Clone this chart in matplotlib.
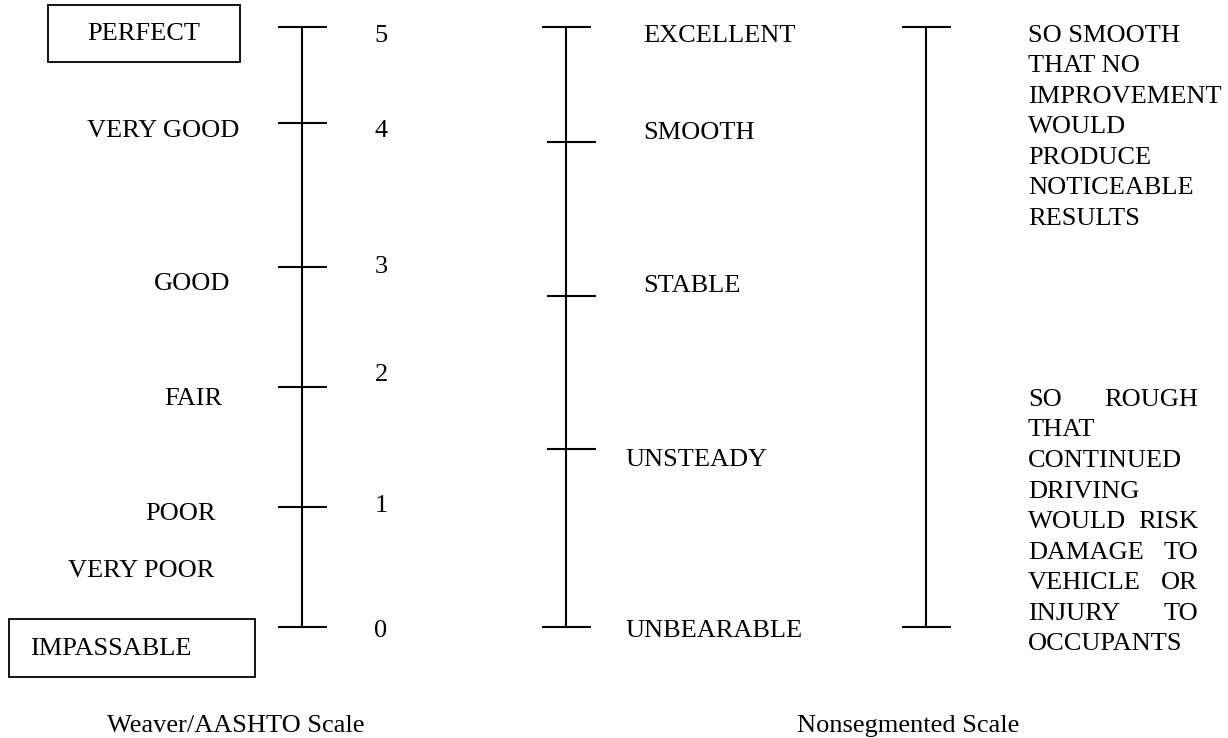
import matplotlib
matplotlib.use("Agg")
import matplotlib.pyplot as plt
from matplotlib.patches import Rectangle

# ---------------- data ----------------
weaver_values = [5, 4, 3, 2, 1, 0]
weaver_tick_pos = [5.0, 4.2, 3.0, 2.0, 1.0, 0.0]
weaver_labels = ["PERFECT", "VERY GOOD", "GOOD", "FAIR", "POOR", "VERY POOR", "IMPASSABLE"]
nonseg_labels = ["EXCELLENT", "SMOOTH", "STABLE", "UNSTEADY", "UNBEARABLE"]
nonseg_tick_pos = [5.0, 4.04, 2.76, 1.48, 0.0]
desc_top = ["SO SMOOTH", "THAT NO", "IMPROVEMENT", "WOULD", "PRODUCE", "NOTICEABLE", "RESULTS"]
desc_bottom = ["SO ROUGH", "THAT", "CONTINUED", "DRIVING", "WOULD RISK", "DAMAGE TO",
               "VEHICLE OR", "INJURY TO", "OCCUPANTS"]
captions = ["Weaver/AASHTO Scale", "Nonsegmented Scale"]

# ---------------- layout ----------------
W, H = 1228, 738
BASE_PX, UNIT_PX = 627, 120          # pixel row of scale 0, pixels per scale unit
FONT = "Liberation Serif"
FS = 19
CAP_HALF = 8.7                       # half cap height in px

def Y(px):
    return (BASE_PX - px) / UNIT_PX

def Yb(center_px):                   # baseline for a given cap-centre pixel row
    return Y(center_px + CAP_HALF)

fig = plt.figure(figsize=(W / 100, H / 100), dpi=100)
ax = fig.add_axes([0, 0, 1, 1])
ax.set_xlim(0, W)
ax.set_ylim(Y(H), Y(0))
ax.axis("off")

LW = 1.5
def scale(xc, ticks, tick_spans):
    ax.plot([xc, xc], [min(ticks), max(ticks)], color="black", lw=LW, solid_capstyle="butt")
    for t, (x0, x1) in zip(ticks, tick_spans):
        ax.plot([x0, x1], [t, t], color="black", lw=LW, solid_capstyle="butt")

def txt(x, cy, s, ha="left"):
    ax.text(x, Yb(cy), s, ha=ha, va="baseline", fontsize=FS, family=FONT, color="black")

# Weaver / AASHTO scale
scale(302, weaver_tick_pos, [(278, 327)] * len(weaver_tick_pos))
num_cy = [33, 128, 264, 372, 503, 628]
for v, cy in zip(weaver_values, num_cy):
    txt(381, cy, str(v), ha="center")
w_lab_x = [87, 87, 154, 164, 145, 68, 30]
w_lab_cy = [31, 128, 281, 396, 511, 568, 646]
for s, x, cy in zip(weaver_labels, w_lab_x, w_lab_cy):
    txt(x, cy, s)
for (x0, x1, t0, t1) in [(48, 240, 5, 62), (9, 255, 619, 677)]:
    ax.add_patch(Rectangle((x0, Y(t1)), x1 - x0, Y(t0) - Y(t1), fill=False,
                           edgecolor="black", lw=1.3))

# Nonsegmented scale
scale(566, nonseg_tick_pos, [(542, 591), (547, 596), (547, 596), (547, 596), (542, 591)])
n_lab_x = [643, 643, 643, 625, 625]
n_lab_cy = [33, 130, 283, 457, 628]
for s, x, cy in zip(nonseg_labels, n_lab_x, n_lab_cy):
    txt(x, cy, s)

# Descriptive scale
scale(926, [5.0, 0.0], [(902, 951), (902, 951)])
X0, X1, LS = 1028, 1198, 30.6
for i, line in enumerate(desc_top):
    txt(X0, 33 + i * 30.5, line)
for i, line in enumerate(desc_bottom):
    cy = 397 + i * LS
    words = line.split()
    if len(words) == 1 or i == len(desc_bottom) - 1:
        txt(X0, cy, line)
    else:
        txt(X0, cy, words[0])
        txt(X1, cy, words[-1], ha="right")

# captions
txt(107, 723, captions[0])
txt(797, 723, captions[1])

fig.savefig("out.png", dpi=100)
